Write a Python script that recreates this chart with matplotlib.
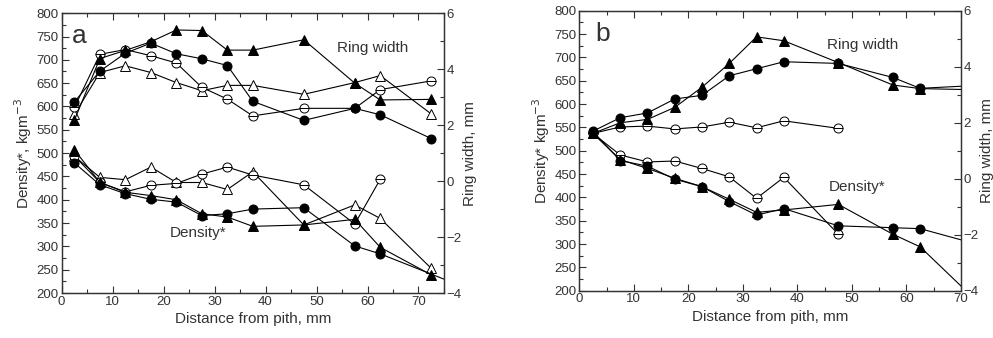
import numpy as np
import matplotlib
matplotlib.use("Agg")
import matplotlib.pyplot as plt
from matplotlib.ticker import MultipleLocator

plt.rcParams['font.family'] = ['Liberation Sans', 'DejaVu Sans']

GREY = '#333333'

# distance from pith, mm
x_a = [2.5, 7.5, 12.5, 17.5, 22.5, 27.5, 32.5, 37.5, 47.5, 57.5, 62.5, 72.5]
x_b = [2.5, 7.5, 12.5, 17.5, 22.5, 27.5, 32.5, 37.5, 47.5, 57.5, 62.5, 72.5]

# panel a - ring width, mm (right axis)
rw_a_tri_f = [2.18, 4.38, 4.67, 4.98, 5.40, 5.38, 4.68, 4.68, 5.05, 3.50, 2.90, 2.92]
rw_a_cir_f = [2.83, 3.93, 4.57, 4.93, 4.55, 4.37, 4.13, 2.85, 2.17, 2.60, 2.37, 1.52]
rw_a_cir_o = [2.63, 4.53, 4.70, 4.48, 4.22, 3.35, 2.93, 2.33, 2.60, 2.60, 3.27, 3.58]
rw_a_tri_o = [2.38, 3.88, 4.12, 3.88, 3.52, 3.23, 3.42, 3.42, 3.10, 3.52, 3.77, 2.40]

# panel a - density*, kg/m3 (left axis)
den_a_tri_f = [507, 437, 416, 409, 400, 370, 363, 343, 346, 358, 298, 239]
den_a_cir_f_x = [2.5, 7.5, 12.5, 17.5, 22.5, 27.5, 32.5, 37.5, 47.5, 57.5, 62.5, 77.5]
den_a_cir_f = [479, 432, 413, 401, 395, 366, 370, 380, 383, 301, 284, 219]
den_a_cir_o_x = [2.5, 7.5, 12.5, 17.5, 22.5, 27.5, 32.5, 37.5, 47.5, 57.5, 62.5]
den_a_cir_o = [494, 437, 417, 431, 435, 455, 470, 453, 432, 348, 444]
den_a_tri_o = [493, 448, 443, 470, 437, 437, 422, 460, 346, 389, 360, 253]

# panel b - ring width, mm
rw_b_tri_f = [1.62, 2.00, 2.12, 2.55, 3.27, 4.12, 5.07, 4.93, 4.15, 3.35, 3.22, 3.18]
rw_b_cir_f = [1.70, 2.18, 2.35, 2.85, 2.98, 3.68, 3.93, 4.18, 4.12, 3.62, 3.23, 3.33]
rw_b_cir_o_x = [2.5, 7.5, 12.5, 17.5, 22.5, 27.5, 32.5, 37.5, 47.5]
rw_b_cir_o = [1.62, 1.85, 1.88, 1.78, 1.85, 2.02, 1.82, 2.07, 1.80]

# panel b - density*, kg/m3
den_b_tri_f = [537, 481, 462, 441, 423, 396, 368, 373, 385, 321, 294, 182]
den_b_cir_f = [541, 479, 467, 439, 423, 391, 362, 376, 339, 335, 333, 301]
den_b_cir_o_x = [2.5, 7.5, 12.5, 17.5, 22.5, 27.5, 32.5, 37.5, 47.5]
den_b_cir_o = [537, 491, 476, 478, 462, 444, 398, 443, 321]


def series(ax, x, y, kind):
    tri = kind.startswith('tri')
    filled = kind.endswith('_f')
    ax.plot(x, y, color='black', lw=0.8, marker='^' if tri else 'o',
            ms=7.5 if tri else 6.5, mfc='black' if filled else 'white',
            mec='black', mew=0.7)
    if kind == 'cir_o':
        ax.plot(x, y, ls='none', marker='_', ms=6.5, mec='black', mew=0.7)


def style(ax, ax2, xmax, ylab):
    ax.set_xlim(0, xmax)
    ax.set_ylim(200, 800)
    ax2.set_ylim(-4, 6)
    ax.xaxis.set_major_locator(MultipleLocator(10))
    ax.xaxis.set_minor_locator(MultipleLocator(5))
    ax.yaxis.set_major_locator(MultipleLocator(50))
    ax.yaxis.set_minor_locator(MultipleLocator(25))
    ax2.yaxis.set_major_locator(MultipleLocator(2))
    ax2.yaxis.set_minor_locator(MultipleLocator(1))
    ax.tick_params(which='both', direction='in', top=True, right=False,
                   labelsize=9.5, colors=GREY, labelcolor=GREY)
    ax.tick_params(which='major', length=5, width=0.8, pad=2)
    ax.tick_params(which='minor', length=3, width=0.8)
    ax2.tick_params(which='both', direction='in', labelsize=9.5, colors=GREY)
    ax2.tick_params(which='major', length=5, width=0.8, pad=2)
    ax2.tick_params(which='minor', length=3, width=0.8)
    for a in (ax, ax2):
        for s in a.spines.values():
            s.set_color(GREY)
            s.set_linewidth(0.9)
    ax.set_xlabel('Distance from pith, mm', fontsize=11, color=GREY, labelpad=3)
    ax.set_ylabel(ylab, fontsize=11, color=GREY, labelpad=2)
    ax2.set_ylabel('Ring width, mm', fontsize=11, color=GREY, labelpad=1)


fig = plt.figure(figsize=(9.93, 3.38), dpi=100)

# panel a
ax_a = fig.add_axes([0.0621, 0.133, 0.385, 0.828])
ax_a2 = ax_a.twinx()
series(ax_a2, x_a, rw_a_tri_o, 'tri_o')
series(ax_a2, x_a, rw_a_cir_o, 'cir_o')
series(ax_a2, x_a, rw_a_cir_f, 'cir_f')
series(ax_a2, x_a, rw_a_tri_f, 'tri_f')
series(ax_a, x_a, den_a_tri_o, 'tri_o')
series(ax_a, den_a_cir_o_x, den_a_cir_o, 'cir_o')
series(ax_a, den_a_cir_f_x, den_a_cir_f, 'cir_f')
series(ax_a, x_a, den_a_tri_f, 'tri_f')
style(ax_a, ax_a2, 75, 'Density*, kgm$^{-3}$')
ax_a.text(2.0, 752, 'a', fontsize=19, color=GREY, va='center', ha='left')
ax_a.text(61, 726, 'Ring width', fontsize=11, color=GREY, va='center', ha='center')
ax_a.text(26.8, 329, 'Density*', fontsize=11, color=GREY, va='center', ha='center')

# panel b
ax_b = fig.add_axes([0.5834, 0.140, 0.3844, 0.828])
ax_b2 = ax_b.twinx()
series(ax_b2, rw_b_cir_o_x, rw_b_cir_o, 'cir_o')
series(ax_b2, x_b, rw_b_cir_f, 'cir_f')
series(ax_b2, x_b, rw_b_tri_f, 'tri_f')
series(ax_b, den_b_cir_o_x, den_b_cir_o, 'cir_o')
series(ax_b, x_b, den_b_cir_f, 'cir_f')
series(ax_b, x_b, den_b_tri_f, 'tri_f')
style(ax_b, ax_b2, 70, 'Density* kgm$^{-3}$')
ax_b.text(2.9, 750, 'b', fontsize=19, color=GREY, va='center', ha='left')
ax_b.text(52, 726, 'Ring width', fontsize=11, color=GREY, va='center', ha='center')
ax_b.text(50.9, 423, 'Density*', fontsize=11, color=GREY, va='center', ha='center')

fig.savefig('out.png', dpi=100)
